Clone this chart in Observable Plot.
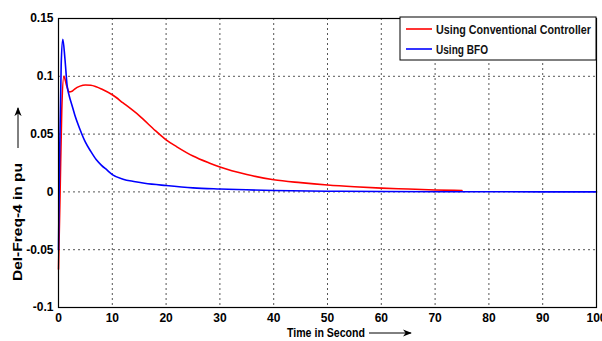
<!DOCTYPE html>
<html><head><meta charset="utf-8">
<script src="https://cdn.jsdelivr.net/npm/d3@7"></script>
<script src="https://cdn.jsdelivr.net/npm/@observablehq/plot@0.6"></script>
<style>
html,body{margin:0;padding:0;background:#fff;overflow:hidden}
#chart{width:602px;height:341px}
</style></head>
<body><div id="chart"></div>
<script>
const seriesNames = ["Using Conventional Controller", "Using BFO"];
const seriesColors = ["#ff0000", "#0000ff"];
const xTicks = [0,10,20,30,40,50,60,70,80,90,100];
const yTicks = [-0.1,-0.05,0,0.05,0.1,0.15];
const yTickLabels = ["-0.1","-0.05","0","0.05","0.1","0.15"];

const convT = [0,0.3,0.6,1,1.5,2,2.5,3,4,5,6,7,8,10,12,15,18,20,22,25,28,30,35,40,45,50,55,60,65,70,75];
const convV = [-0.067,0.0,0.07,0.1,0.092,0.0865,0.087,0.089,0.0915,0.0925,0.0923,0.091,0.089,0.084,0.077,0.066,0.053,0.045,0.039,0.031,0.025,0.0215,0.015,0.0105,0.008,0.006,0.0045,0.0033,0.0025,0.0017,0.0012];

const bfoT = [0,0.2,0.5,0.8,1.2,1.6,2,2.5,3,4,5,6,7,8,9,10,12,14,16,20,25,30,40,50,60,80,100];
const bfoV = [-0.05,0.03,0.11,0.132,0.115,0.092,0.083,0.075,0.067,0.054,0.043,0.035,0.028,0.023,0.019,0.015,0.011,0.009,0.0075,0.0055,0.0035,0.0025,0.0012,0.0006,0.0003,0.0001,0];

const data = [
  ...convT.map((t,i)=>({t, v:convV[i], s:seriesNames[0]})),
  ...bfoT.map((t,i)=>({t, v:bfoV[i], s:seriesNames[1]}))
];

const FONT = "Arial, 'Liberation Sans', sans-serif";
const yFmt = d => yTickLabels[yTicks.findIndex(v=>Math.abs(v-d)<1e-9)];
const W=602,H=341,ML=58,MR=6,MT=18,MB=34;
const plot = Plot.plot({
  width:W, height:H,
  marginLeft:ML, marginRight:MR, marginTop:MT, marginBottom:MB,
  style:{fontFamily:FONT, fontSize:"12px", background:"#fff", overflow:"visible"},
  x:{domain:[0,100], label:null},
  y:{domain:[-0.1,0.15], label:null},
  color:{domain:seriesNames, range:seriesColors},
  marks:[
    Plot.gridX(xTicks,{stroke:"#444", strokeOpacity:0.9, strokeDasharray:"2,3"}),
    Plot.gridY(yTicks,{stroke:"#444", strokeOpacity:0.9, strokeDasharray:"2,3"}),
    Plot.line(data,{x:"t", y:"v", z:"s", stroke:"s", strokeWidth:1.6, curve:"monotone-x"}),
    Plot.frame({stroke:"#000", strokeWidth:1.2}),
    Plot.axisX({ticks:xTicks, tickSize:0, tickPadding:6, fontWeight:"bold", fontSize:12, label:null, tickFormat:d=>String(d)}),
    Plot.axisY({ticks:yTicks, tickSize:0, tickPadding:5, fontWeight:"bold", fontSize:12, label:null, tickFormat:yFmt})
  ]
});
document.getElementById("chart").appendChild(plot);

const svg = d3.select(plot);
const defs = svg.append("defs");
defs.append("marker").attr("id","arr").attr("viewBox","0 0 10 10").attr("refX",9).attr("refY",5)
  .attr("markerWidth",9).attr("markerHeight",9).attr("markerUnits","userSpaceOnUse").attr("orient","auto")
  .append("path").attr("d","M0,1 L10,5 L0,9 L3,5 Z").attr("fill","#000");

// x label
svg.append("text").attr("x",287).attr("y",337).attr("text-anchor","start").attr("font-weight","bold").attr("font-size",12)
  .attr("font-family",FONT).attr("textLength",78).attr("lengthAdjust","spacingAndGlyphs").text("Time in Second");
svg.append("line").attr("x1",369).attr("x2",411).attr("y1",333).attr("y2",333)
  .attr("stroke","#000").attr("stroke-width",1).attr("marker-end","url(#arr)");

// y label
svg.append("text").attr("transform","translate(22,222) rotate(-90)").attr("text-anchor","middle")
  .attr("font-weight","bold").attr("font-size",12).attr("font-family",FONT)
  .attr("textLength",118).attr("lengthAdjust","spacingAndGlyphs")
  .text("Del-Freq-4 in pu");
svg.append("line").attr("x1",18).attr("x2",18).attr("y1",148).attr("y2",108)
  .attr("stroke","#000").attr("stroke-width",1).attr("marker-end","url(#arr)");

// legend
const lg = svg.append("g");
lg.append("rect").attr("x",400).attr("y",17).attr("width",196).attr("height",43)
  .attr("fill","#fff").attr("stroke","#000");
const legendLen = [155, 52];
seriesNames.forEach((n,i)=>{
  const y = 29 + i*20;
  lg.append("line").attr("x1",406).attr("x2",432).attr("y1",y).attr("y2",y).attr("stroke",seriesColors[i]).attr("stroke-width",1.6);
  lg.append("text").attr("x",436).attr("y",y+4.5).attr("text-anchor","start").attr("font-size",12.5).attr("font-family",FONT)
    .attr("font-weight","bold").attr("fill","#111").attr("textLength",legendLen[i]).attr("lengthAdjust","spacingAndGlyphs").text(n);
});
</script></body></html>
